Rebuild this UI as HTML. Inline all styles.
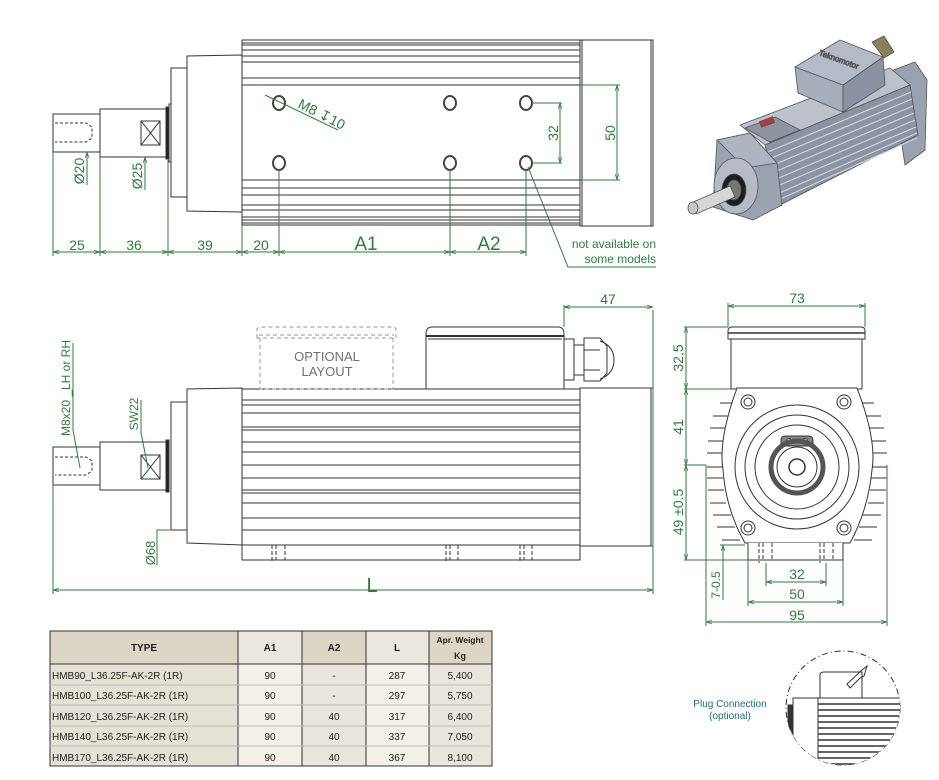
<!DOCTYPE html>
<html><head><meta charset="utf-8"><style>
html,body{margin:0;padding:0;background:#fff;}
svg{display:block;}
text{font-family:"Liberation Sans",Arial,sans-serif;}
</style></head><body>
<svg width="939" height="780" viewBox="0 0 939 780" xmlns="http://www.w3.org/2000/svg">
<defs>
<marker id="a" viewBox="0 0 10 10" refX="10" refY="5" markerWidth="6" markerHeight="6" orient="auto-start-reverse"><path d="M0,2 L10,5 L0,8" fill="none" stroke="#2e7d3a" stroke-width="1.2"/></marker>
</defs>
<rect width="939" height="780" fill="#fff"/>

<!-- ================= TOP VIEW ================= -->
<g fill="none" stroke="#333" stroke-width="1">
  <rect x="53" y="114" width="47" height="38" fill="#fff"/>
  <path d="M55,123 H86 L92,127 V138 L86,142 H55" stroke-dasharray="3,2"/>
  <rect x="100" y="109" width="68" height="48" fill="#fff"/>
  <rect x="141" y="121" width="19" height="24"/>
  <path d="M141,121 L160,145 M160,121 L141,145"/>
  <rect x="166" y="107" width="3" height="52" fill="#222"/>
  <rect x="169" y="104" width="2" height="58" fill="#fff"/>
  <rect x="171" y="68" width="16" height="129" fill="#fff"/>
  <path d="M187,56 L242,55 L242,212 L187,211 Z" fill="#fff"/>
  <rect x="242" y="40" width="338" height="185" fill="#fff"/>
  <g stroke="#333">
    <line x1="242" y1="43" x2="580" y2="43"/><line x1="242" y1="45" x2="580" y2="45"/>
    <line x1="242" y1="50" x2="580" y2="50"/><line x1="242" y1="56" x2="580" y2="56"/>
    <line x1="242" y1="62" x2="580" y2="62"/><line x1="242" y1="78" x2="580" y2="78"/>
    <line x1="242" y1="85" x2="580" y2="85"/>
    <line x1="242" y1="180" x2="580" y2="180"/><line x1="242" y1="188" x2="580" y2="188"/>
    <line x1="242" y1="195" x2="580" y2="195"/><line x1="242" y1="205" x2="580" y2="205"/>
    <line x1="242" y1="210" x2="580" y2="210"/><line x1="242" y1="217" x2="580" y2="217"/>
    <line x1="242" y1="220" x2="580" y2="220"/><line x1="242" y1="223" x2="580" y2="223"/>
  </g>
  <rect x="580" y="40" width="73" height="186" fill="#fff"/>
  <line x1="582" y1="40" x2="582" y2="226"/>
  <line x1="651" y1="40" x2="651" y2="226"/>
  <g stroke-width="2" stroke="#444">
    <ellipse cx="279" cy="103" rx="6" ry="7"/><ellipse cx="450" cy="103" rx="6" ry="7"/><ellipse cx="526" cy="103" rx="6" ry="7"/>
    <ellipse cx="279" cy="163" rx="6" ry="7"/><ellipse cx="450" cy="163" rx="6" ry="7"/><ellipse cx="526" cy="163" rx="6" ry="7"/>
  </g>
</g>
<g stroke="#2e7d3a" stroke-width="1" fill="none">
  <line x1="53" y1="152" x2="53" y2="256"/><line x1="100" y1="157" x2="100" y2="256"/>
  <line x1="168" y1="160" x2="168" y2="256"/><line x1="242" y1="225" x2="242" y2="256"/>
  <line x1="279" y1="170" x2="279" y2="256"/><line x1="450" y1="170" x2="450" y2="256"/>
  <line x1="526" y1="170" x2="526" y2="256"/>
  <line x1="53" y1="252" x2="100" y2="252" marker-start="url(#a)" marker-end="url(#a)"/>
  <line x1="100" y1="252" x2="168" y2="252" marker-start="url(#a)" marker-end="url(#a)"/>
  <line x1="168" y1="252" x2="242" y2="252" marker-start="url(#a)" marker-end="url(#a)"/>
  <line x1="242" y1="252" x2="279" y2="252" marker-start="url(#a)" marker-end="url(#a)"/>
  <line x1="279" y1="252" x2="450" y2="252" marker-start="url(#a)" marker-end="url(#a)"/>
  <line x1="450" y1="252" x2="526" y2="252" marker-start="url(#a)" marker-end="url(#a)"/>
  <line x1="87" y1="185" x2="87" y2="152" marker-end="url(#a)"/>
  <line x1="145" y1="190" x2="145" y2="157" marker-end="url(#a)"/>
  <line x1="532" y1="103" x2="562" y2="103"/><line x1="532" y1="163" x2="562" y2="163"/>
  <line x1="560" y1="103" x2="560" y2="163" marker-start="url(#a)" marker-end="url(#a)"/>
  <line x1="580" y1="85" x2="620" y2="85"/><line x1="580" y1="180" x2="620" y2="180"/>
  <line x1="617" y1="85" x2="617" y2="180" marker-start="url(#a)" marker-end="url(#a)"/>
  <line x1="265" y1="95" x2="338" y2="130"/>
  <path d="M528,167 L568,267 L656,267"/>
</g>
<g fill="#2e7d3a" font-size="14">
  <text x="77" y="250" text-anchor="middle">25</text>
  <text x="134" y="250" text-anchor="middle">36</text>
  <text x="205" y="250" text-anchor="middle">39</text>
  <text x="261" y="250" text-anchor="middle">20</text>
  <text x="366" y="250" text-anchor="middle" font-size="19">A1</text>
  <text x="489" y="250" text-anchor="middle" font-size="19">A2</text>
  <text transform="translate(84,171) rotate(-90)" text-anchor="middle">Ø20</text>
  <text transform="translate(142,176) rotate(-90)" text-anchor="middle">Ø25</text>
  <text transform="translate(558,133) rotate(-90)" text-anchor="middle">32</text>
  <text transform="translate(615,133) rotate(-90)" text-anchor="middle">50</text>
  <text transform="translate(297,107) rotate(27)">M8 ↧10</text>
  <text x="656" y="248" text-anchor="end" font-size="12">not available on</text>
  <text x="656" y="263" text-anchor="end" font-size="12">some models</text>
</g>

<!-- ================= PHOTO (iso) ================= -->
<g stroke="#555" stroke-width="0.8" stroke-linejoin="round">
  <!-- end cap -->
  <path d="M880,75 L915,62 L927,80 L925,150 L905,165 L895,100 Z" fill="#9aa1b0"/>
  <!-- body top face -->
  <path d="M740,125 L890,68 L910,85 L765,145 Z" fill="#bcc1cc"/>
  <!-- body side with fins -->
  <path d="M765,145 L910,85 L918,135 L780,205 Z" fill="#8c93a3"/>
  <g stroke="#cfd3dc" stroke-width="1.2">
    <line x1="768" y1="152" x2="911" y2="92"/><line x1="769" y1="159" x2="912" y2="99"/>
    <line x1="771" y1="166" x2="913" y2="106"/><line x1="772" y1="173" x2="914" y2="113"/>
    <line x1="774" y1="180" x2="915" y2="120"/><line x1="775" y1="187" x2="916" y2="127"/>
    <line x1="777" y1="194" x2="917" y2="133"/><line x1="778" y1="200" x2="917" y2="138"/>
  </g>
  <!-- label plate -->
  <path d="M745,128 L775,117 L800,130 L770,142 Z" fill="#8e94a2"/>
  <rect x="760" y="119" width="14" height="6" fill="#b03a3a" transform="rotate(-20 767 122)"/>
  <!-- terminal box -->
  <path d="M795,67 L843,85 L843,112 L798,93 Z" fill="#a6adbb"/>
  <path d="M843,85 L883,57 L885,85 L843,112 Z" fill="#8b92a1"/>
  <path d="M795,67 L840,40 L883,57 L843,85 Z" fill="#b4bac6"/>
  <text x="838" y="62" font-size="8" fill="#555" transform="rotate(20 838 62)" text-anchor="middle">Teknomotor</text>
  <path d="M872,42 L884,36 L894,52 L884,58 Z" fill="#8a8060"/>
  <!-- front housing -->
  <path d="M717,140 L750,133 L777,163 L782,205 L753,220 L713,207 Z" fill="#9ba2b0"/>
  <path d="M717,140 L750,133 L777,163 L745,168 Z" fill="#aeb4c0"/>
  <ellipse cx="736" cy="186" rx="22" ry="28" fill="#b5bac5"/>
  <ellipse cx="734" cy="190" rx="12" ry="16" fill="#1e1e1e"/>
  <ellipse cx="734" cy="190" rx="7" ry="10" fill="#777"/>
  <path d="M691,203 L730,186 L735,197 L696,214 Z" fill="#d6d6d6"/>
  <ellipse cx="693" cy="208" rx="5" ry="6" fill="#c8c8c8"/>
</g>

<!-- ================= SIDE VIEW ================= -->
<g fill="none" stroke="#333" stroke-width="1">
  <rect x="53" y="447" width="47" height="38" fill="#fff"/>
  <path d="M55,457 H86 L92,461 V471 L86,475 H55" stroke-dasharray="3,2"/>
  <rect x="100" y="442" width="68" height="48" fill="#fff"/>
  <rect x="141" y="455" width="19" height="24"/>
  <path d="M141,455 L160,479 M160,455 L141,479"/>
  <rect x="166" y="440" width="3" height="52" fill="#222"/>
  <rect x="171" y="402" width="16" height="128" fill="#fff"/>
  <path d="M187,389 L242,388 L242,545 L187,543 Z" fill="#fff"/>
  <rect x="242" y="389" width="338" height="156" fill="#fff"/>
  <g>
    <line x1="242" y1="400" x2="580" y2="400"/><line x1="242" y1="405" x2="580" y2="405"/>
    <line x1="242" y1="413" x2="580" y2="413"/><line x1="242" y1="427" x2="580" y2="427"/>
    <line x1="242" y1="430" x2="580" y2="430"/><line x1="242" y1="442" x2="580" y2="442"/>
    <line x1="242" y1="452" x2="580" y2="452"/><line x1="242" y1="465" x2="580" y2="465"/>
    <line x1="242" y1="478" x2="580" y2="478"/><line x1="242" y1="490" x2="580" y2="490"/>
    <line x1="242" y1="493" x2="580" y2="493"/><line x1="242" y1="503" x2="580" y2="503"/>
    <line x1="242" y1="518" x2="580" y2="518"/><line x1="242" y1="530" x2="580" y2="530"/>
  </g>
  <rect x="242" y="545" width="338" height="15" fill="#fff"/>
  <path d="M272,545 V563 M276,545 V560 M285,545 V560 M446,545 V563 M450,545 V560 M458,545 V560 M520,545 V563 M524,545 V560 M532,545 V560" stroke-dasharray="4,2"/>
  <rect x="580" y="388" width="73" height="158" fill="#fff"/>
  <line x1="651" y1="388" x2="651" y2="546"/>
  <path d="M426,389 V334 Q426,327 432,327 H558 Q564,327 564,334 V389 Z" fill="#fff"/>
  <line x1="426" y1="336" x2="564" y2="336" stroke-width="2"/>
  <line x1="428" y1="339" x2="562" y2="339"/>
  <rect x="564" y="339" width="10" height="41" fill="#fff"/>
  <rect x="574" y="345" width="10" height="30" fill="#fff"/>
  <path d="M584,338 H600 L607,346 V373 L600,381 H584 Z" fill="#fff"/>
  <path d="M600,341 Q614,346 614,360 Q614,374 600,379"/>
  <line x1="584" y1="350" x2="600" y2="350"/><line x1="584" y1="370" x2="600" y2="370"/>
</g>
<g fill="none" stroke="#aaa" stroke-width="1.2" stroke-dasharray="4,3">
  <path d="M257,338 V330 Q257,327 261,327 H392 Q396,327 396,330 V338 Z"/>
  <line x1="259" y1="335" x2="394" y2="335"/>
  <path d="M260,338 V389 H393 V338"/>
</g>
<text x="327" y="361" text-anchor="middle" font-size="13" fill="#6a6f80">OPTIONAL</text>
<text x="327" y="376" text-anchor="middle" font-size="13" fill="#6a6f80">LAYOUT</text>
<g stroke="#2e7d3a" stroke-width="1" fill="none">
  <line x1="53" y1="485" x2="53" y2="594"/><line x1="653" y1="310" x2="653" y2="594"/>
  <line x1="564" y1="305" x2="564" y2="327"/>
  <line x1="564" y1="307" x2="653" y2="307" marker-start="url(#a)" marker-end="url(#a)"/>
  <line x1="53" y1="590" x2="653" y2="590" marker-start="url(#a)" marker-end="url(#a)"/>
  <path d="M73,343 V430 L80,468"/>
  <path d="M141,400 V433 L148,468"/>
  <path d="M170,530 H157 V565"/>
</g>
<g fill="#2e7d3a" font-size="14">
  <text x="608" y="304" text-anchor="middle">47</text>
  <text x="372" y="592" text-anchor="middle" font-size="20">L</text>
  <text transform="translate(70,388) rotate(-90)" text-anchor="middle" font-size="12">M8x20 _LH or RH</text>
  <text transform="translate(138,414) rotate(-90)" text-anchor="middle" font-size="12">SW22</text>
  <text transform="translate(155,553) rotate(-90)" text-anchor="middle" font-size="13">Ø68</text>
</g>

<!-- ================= FRONT VIEW ================= -->
<g fill="none" stroke="#333" stroke-width="1">
  <path d="M728,339 V331 Q728,327 732,327 H861 Q865,327 865,331 V339 Z" fill="#fff"/>
  <line x1="728" y1="333" x2="865" y2="333" stroke-width="1.5"/>
  <rect x="731" y="339" width="131" height="50" fill="#fff"/>
  <g stroke-width="1">
    <path d="M720,403 h16 M713,416 h18 M710,428 h16 M708,441 h16 M707,453 h16 M707,467 h16 M707,478 h16 M708,490 h16 M710,503 h16 M713,515 h18 M717,527 h18 M722,540 h18"/>
    <path d="M874,403 h-16 M881,416 h-18 M884,428 h-16 M886,441 h-16 M887,453 h-16 M887,467 h-16 M887,478 h-16 M886,490 h-16 M884,503 h-16 M881,515 h-18 M877,527 h-18 M872,540 h-18"/>
  </g>
  <path d="M737,388 L857,388 Q877,440 872,470 Q868,510 850,543 L745,543 Q726,510 723,470 Q718,440 737,388 Z" fill="#fff"/>
  <circle cx="797" cy="467" r="62"/>
  <circle cx="797" cy="467" r="52"/>
  <circle cx="797" cy="467" r="42"/>
  <path d="M781,440 Q781,436 786,436 H808 Q813,436 813,440 V446 H781 Z" fill="#888"/>
  <circle cx="789" cy="441" r="2.5" fill="#fff"/><circle cx="805" cy="441" r="2.5" fill="#fff"/>
  <circle cx="797" cy="467" r="26" stroke="#555" stroke-width="5"/>
  <circle cx="797" cy="467" r="20"/>
  <circle cx="797" cy="467" r="8" stroke-width="1.5"/>
  <g><circle cx="748" cy="402" r="7"/><circle cx="748" cy="402" r="4"/>
  <circle cx="844" cy="402" r="7"/><circle cx="844" cy="402" r="4"/>
  <circle cx="748" cy="528" r="7"/><circle cx="748" cy="528" r="4"/>
  <circle cx="844" cy="528" r="7"/><circle cx="844" cy="528" r="4"/></g>
  <path d="M748,543 V560 H843 V543" fill="#fff"/>
  <path d="M759,543 V563 M763,543 V560 M772,543 V560 M820,543 V563 M824,543 V560 M833,543 V560" stroke-dasharray="4,2"/>
</g>
<g stroke="#2e7d3a" stroke-width="1" fill="none">
  <line x1="728" y1="303" x2="728" y2="327"/><line x1="865" y1="303" x2="865" y2="327"/>
  <line x1="728" y1="306" x2="865" y2="306" marker-start="url(#a)" marker-end="url(#a)"/>
  <line x1="684" y1="327" x2="728" y2="327"/><line x1="684" y1="389" x2="731" y2="389"/>
  <line x1="684" y1="465" x2="706" y2="465"/><line x1="684" y1="560" x2="748" y2="560"/>
  <line x1="686" y1="327" x2="686" y2="389" marker-start="url(#a)" marker-end="url(#a)"/>
  <line x1="686" y1="389" x2="686" y2="465" marker-start="url(#a)" marker-end="url(#a)"/>
  <line x1="686" y1="465" x2="686" y2="560" marker-start="url(#a)" marker-end="url(#a)"/>
  <line x1="720" y1="545" x2="745" y2="545"/>
  <line x1="723" y1="545" x2="723" y2="600" marker-start="url(#a)"/>
  <line x1="706" y1="465" x2="706" y2="626"/><line x1="887" y1="465" x2="887" y2="626"/>
  <line x1="748" y1="560" x2="748" y2="606"/><line x1="843" y1="560" x2="843" y2="606"/>
  <line x1="766" y1="563" x2="766" y2="586"/><line x1="826" y1="563" x2="826" y2="586"/>
  <line x1="766" y1="582" x2="826" y2="582" marker-start="url(#a)" marker-end="url(#a)"/>
  <line x1="748" y1="602" x2="843" y2="602" marker-start="url(#a)" marker-end="url(#a)"/>
  <line x1="706" y1="622" x2="887" y2="622" marker-start="url(#a)" marker-end="url(#a)"/>
</g>
<g fill="#2e7d3a" font-size="14">
  <text x="797" y="303" text-anchor="middle">73</text>
  <text transform="translate(683,358) rotate(-90)" text-anchor="middle">32,5</text>
  <text transform="translate(683,427) rotate(-90)" text-anchor="middle">41</text>
  <text transform="translate(683,512) rotate(-90)" text-anchor="middle">49 ±0.5</text>
  <text transform="translate(720,585) rotate(-90)" text-anchor="middle" font-size="12">7-0.5</text>
  <text x="797" y="579" text-anchor="middle">32</text>
  <text x="797" y="599" text-anchor="middle">50</text>
  <text x="797" y="620" text-anchor="middle">95</text>
</g>

<!-- ================= TABLE ================= -->
<g font-size="10" fill="#222">
  <rect x="50" y="631" width="188" height="33" fill="#dcd6c5"/>
  <rect x="238" y="631" width="64" height="33" fill="#ebe7de"/>
  <rect x="302" y="631" width="64" height="33" fill="#dcd6c5"/>
  <rect x="366" y="631" width="63" height="33" fill="#ebe7de"/>
  <rect x="429" y="631" width="63" height="33" fill="#dcd6c5"/>
  <rect x="50" y="664" width="188" height="102" fill="#e6e1d5"/>
  <rect x="238" y="664" width="64" height="102" fill="#f3f0ea"/>
  <rect x="302" y="664" width="64" height="102" fill="#e9e5dc"/>
  <rect x="366" y="664" width="63" height="102" fill="#f3f0ea"/>
  <rect x="429" y="664" width="63" height="102" fill="#e9e5dc"/>
  <g stroke="#333" stroke-width="1" fill="none">
    <rect x="50" y="631" width="442" height="135"/>
    <path d="M238,631 V766 M302,631 V766 M366,631 V766 M429,631 V766 M50,664 H492"/>
    <path d="M50,685 H492 M50,705 H492 M50,726 H492 M50,746 H492" stroke="#bbb"/>
  </g>
  <g font-weight="bold" text-anchor="middle">
    <text x="144" y="651">TYPE</text><text x="270" y="651">A1</text><text x="334" y="651">A2</text><text x="397" y="651">L</text>
    <text x="460" y="643" font-size="8.5">Apr. Weight</text><text x="460" y="659" font-size="9">Kg</text>
  </g>
  <g>
    <text x="52" y="679">HMB90_L36.25F-AK-2R (1R)</text>
    <text x="52" y="699">HMB100_L36.25F-AK-2R (1R)</text>
    <text x="52" y="720">HMB120_L36.25F-AK-2R (1R)</text>
    <text x="52" y="740">HMB140_L36.25F-AK-2R (1R)</text>
    <text x="52" y="761">HMB170_L36.25F-AK-2R (1R)</text>
  </g>
  <g text-anchor="middle">
    <text x="270" y="679">90</text><text x="334" y="679">-</text><text x="397" y="679">287</text><text x="460" y="679">5,400</text>
    <text x="270" y="699">90</text><text x="334" y="699">-</text><text x="397" y="699">297</text><text x="460" y="699">5,750</text>
    <text x="270" y="720">90</text><text x="334" y="720">40</text><text x="397" y="720">317</text><text x="460" y="720">6,400</text>
    <text x="270" y="740">90</text><text x="334" y="740">40</text><text x="397" y="740">337</text><text x="460" y="740">7,050</text>
    <text x="270" y="761">90</text><text x="334" y="761">40</text><text x="397" y="761">367</text><text x="460" y="761">8,100</text>
  </g>
</g>

<!-- ================= PLUG DETAIL ================= -->
<defs><clipPath id="pc"><circle cx="843" cy="708" r="57"/></clipPath></defs>
<circle cx="843" cy="708" r="57" fill="none" stroke="#333" stroke-width="1" stroke-dasharray="6,3,1,3"/>
<g clip-path="url(#pc)" stroke="#333" fill="none" stroke-width="1">
  <rect x="793" y="698" width="25" height="80" fill="#fff"/>
  <rect x="788" y="705" width="5" height="30" fill="#333"/>
  <rect x="818" y="698" width="90" height="80" fill="#fff"/>
  <g stroke-width="1.5">
    <line x1="818" y1="704" x2="908" y2="704"/><line x1="818" y1="710" x2="908" y2="710"/>
    <line x1="818" y1="716" x2="908" y2="716"/><line x1="818" y1="722" x2="908" y2="722"/>
    <line x1="818" y1="728" x2="908" y2="728"/><line x1="818" y1="734" x2="908" y2="734"/>
    <line x1="818" y1="740" x2="908" y2="740"/><line x1="818" y1="746" x2="908" y2="746"/>
    <line x1="818" y1="752" x2="908" y2="752"/><line x1="818" y1="758" x2="908" y2="758"/>
    <line x1="818" y1="764" x2="908" y2="764"/>
  </g>
  <path d="M820,698 V675 Q820,672 824,672 H862 V698"/>
  <path d="M847,684 L862,670 L867,666 L864,676 L860,678 L850,688 Z"/>
</g>
<text x="730" y="707" text-anchor="middle" font-size="10" fill="#1a6f7a">Plug Connection</text>
<text x="730" y="719" text-anchor="middle" font-size="10" fill="#1a6f7a">(optional)</text>
</svg>
</body></html>
